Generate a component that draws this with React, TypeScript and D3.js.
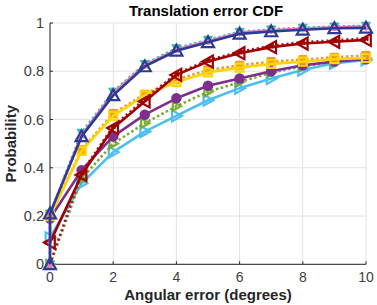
import React from "react";
import * as d3 from "d3";

const xTicks = [0, 2, 4, 6, 8, 10];
const yTicks = [0, 0.2, 0.4, 0.6, 0.8, 1];
const xs = [0, 1, 2, 3, 4, 5, 6, 7, 8, 9, 10];
const xsStep = [0, 0, 1, 2, 3, 4, 5, 6, 7, 8, 9, 10];

const lightBlueVals = [0.11, 0.335, 0.465, 0.55, 0.615, 0.68, 0.73, 0.77, 0.805, 0.833, 0.847];
const greenVals = [0, 0.355, 0.5, 0.585, 0.655, 0.715, 0.755, 0.795, 0.82, 0.84, 0.855];
const purpleVals = [0.19, 0.39, 0.53, 0.62, 0.688, 0.74, 0.77, 0.8, 0.825, 0.84, 0.85];
const orangeVals = [0.2, 0.475, 0.625, 0.705, 0.765, 0.805, 0.825, 0.84, 0.848, 0.858, 0.865];
const yellowVals = [0.2, 0.47, 0.615, 0.7, 0.755, 0.795, 0.815, 0.83, 0.84, 0.85, 0.855];
const darkRedDotVals = [0, 0.38, 0.572, 0.685, 0.79, 0.846, 0.881, 0.906, 0.921, 0.928, 0.937];
const darkRedVals = [0.09, 0.37, 0.565, 0.675, 0.785, 0.84, 0.875, 0.9, 0.915, 0.922, 0.93];
const tealVals = [0, 0.21, 0.545, 0.715, 0.83, 0.895, 0.93, 0.963, 0.973, 0.98, 0.985, 0.988];
const pinkVals = [0, 0.21, 0.535, 0.71, 0.825, 0.89, 0.925, 0.96, 0.97, 0.977, 0.982, 0.985];
const blueVals = [0, 0.21, 0.53, 0.7, 0.82, 0.885, 0.92, 0.955, 0.965, 0.972, 0.978, 0.98];

type Series = {
  x: number[];
  y: number[];
  color: string;
  dash?: string;
  marker: "tri-up" | "tri-down" | "tri-left" | "tri-right" | "square" | "circle";
  filled: boolean;
  msize: number;
  mcolor?: string;
};

const series: Series[] = [
  { x: xs, y: lightBlueVals, color: "#4dbeee", marker: "tri-right", filled: false, msize: 11 },
  { x: xs, y: greenVals, color: "#77ac30", dash: "2.5 2.5", marker: "tri-right", filled: false, msize: 9 },
  { x: xs, y: purpleVals, color: "#7e2f8e", marker: "circle", filled: true, msize: 9 },
  { x: xs, y: orangeVals, color: "#f0952c", dash: "2.5 2.5", marker: "square", filled: true, msize: 10 },
  { x: xs, y: yellowVals, color: "#ffd500", marker: "square", filled: false, msize: 10 },
  { x: xs, y: darkRedDotVals, color: "#a2142f", dash: "2 3", marker: "tri-left", filled: true, msize: 5, mcolor: "#a00000" },
  { x: xs, y: darkRedVals, color: "#a00000", marker: "tri-left", filled: false, msize: 12 },
  { x: xsStep, y: tealVals, color: "#3bb8a8", dash: "2.5 2.5", marker: "tri-down", filled: true, msize: 9 },
  { x: xsStep, y: pinkVals, color: "#e57fb8", marker: "tri-up", filled: true, msize: 7 },
  { x: xsStep, y: blueVals, color: "#2e3a94", marker: "tri-up", filled: false, msize: 12 },
];

const W = 377;
const H = 305;
const x = d3.scaleLinear().domain([0, 10]).range([50, 366]);
const y = d3.scaleLinear().domain([0, 1]).range([264.3, 23]);

function markerPath(kind: Series["marker"], cx: number, cy: number, s: number): string {
  const h = s / 2;
  switch (kind) {
    case "tri-up":
      return `M${cx},${cy - h}L${cx + h},${cy + h * 0.8}L${cx - h},${cy + h * 0.8}Z`;
    case "tri-down":
      return `M${cx},${cy + h}L${cx + h},${cy - h * 0.8}L${cx - h},${cy - h * 0.8}Z`;
    case "tri-left":
      return `M${cx - h},${cy}L${cx + h * 0.8},${cy - h}L${cx + h * 0.8},${cy + h}Z`;
    case "tri-right":
      return `M${cx + h},${cy}L${cx - h * 0.8},${cy - h}L${cx - h * 0.8},${cy + h}Z`;
    case "square":
    default:
      return `M${cx - h * 0.8},${cy - h * 0.8}h${h * 1.6}v${h * 1.6}h${-h * 1.6}Z`;
  }
}

const font = "'Liberation Sans', Arial, Helvetica, sans-serif";
const axisColor = "#262626";

export default function App() {
  const line = d3
    .line<[number, number]>()
    .x((d) => x(d[0]))
    .y((d) => y(d[1]));

  return (
    <svg
      width={W}
      height={H}
      style={{ position: "absolute", left: 0, top: 0, background: "#fff" }}
      fontFamily={font}
    >
      <rect width={W} height={H} fill="#fff" />
      {xTicks.map((t) => (
        <line key={"gx" + t} x1={x(t)} x2={x(t)} y1={y(0)} y2={y(1)} stroke="#e3e3e3" strokeWidth={1} />
      ))}
      {yTicks.map((t) => (
        <line key={"gy" + t} x1={x(0)} x2={x(10)} y1={y(t)} y2={y(t)} stroke="#e3e3e3" strokeWidth={1} />
      ))}
      <line x1={x(0)} x2={x(10)} y1={y(0)} y2={y(0)} stroke={axisColor} strokeWidth={1} />
      <line x1={x(0)} x2={x(0)} y1={y(0)} y2={y(1)} stroke={axisColor} strokeWidth={1} />
      {xTicks.map((t) => (
        <g key={"xt" + t}>
          <line x1={x(t)} x2={x(t)} y1={y(0)} y2={y(0) - 3} stroke={axisColor} />
          <text x={x(t)} y={282} textAnchor="middle" fontSize={14} fill="#404040">
            {t}
          </text>
        </g>
      ))}
      {yTicks.map((t) => (
        <g key={"yt" + t}>
          <line x1={x(0)} x2={x(0) + 3} y1={y(t)} y2={y(t)} stroke={axisColor} />
          <text x={44} y={y(t) + 5} textAnchor="end" fontSize={14.5} fill="#404040">
            {t === 0 || t === 1 ? String(t) : t.toFixed(1)}
          </text>
        </g>
      ))}
      {series.map((s, i) => {
        const pts: [number, number][] = s.x.map((xv, j) => [xv, s.y[j]]);
        const mc = s.mcolor || s.color;
        return (
          <g key={"s" + i}>
            <path
              d={line(pts) || ""}
              fill="none"
              stroke={s.color}
              strokeWidth={2.6}
              strokeDasharray={s.dash}
              strokeLinejoin="round"
            />
            {pts.map((p, j) =>
              s.marker === "circle" ? (
                <circle
                  key={j}
                  cx={x(p[0])}
                  cy={y(p[1])}
                  r={s.msize / 2}
                  fill={s.filled ? mc : "none"}
                  stroke={mc}
                  strokeWidth={1.5}
                />
              ) : (
                <path
                  key={j}
                  d={markerPath(s.marker, x(p[0]), y(p[1]), s.msize)}
                  fill={s.filled ? mc : "none"}
                  stroke={mc}
                  strokeWidth={s.filled ? 1 : 2.2}
                  strokeLinejoin="miter"
                />
              )
            )}
          </g>
        );
      })}
      <text x={206} y={16} textAnchor="middle" fontSize={15} fontWeight="bold" fill="#000">
        Translation error CDF
      </text>
      <text x={208} y={300} textAnchor="middle" fontSize={15} fontWeight="bold" fill="#262626">
        Angular error (degrees)
      </text>
      <text
        transform={`translate(16,${y(0.5)}) rotate(-90)`}
        textAnchor="middle"
        fontSize={15}
        fontWeight="bold"
        fill="#262626"
      >
        Probability
      </text>
    </svg>
  );
}
